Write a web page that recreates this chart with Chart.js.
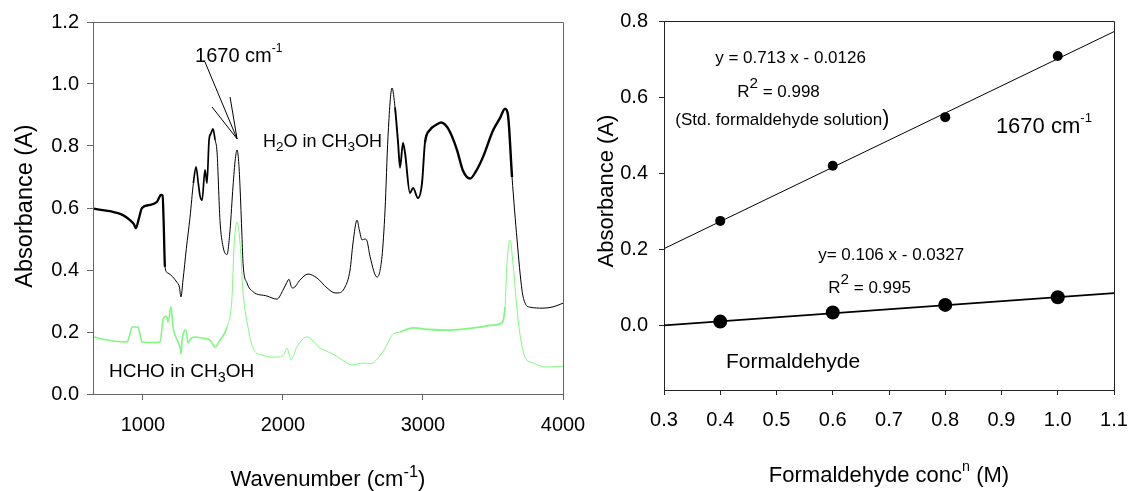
<!DOCTYPE html>
<html>
<head>
<meta charset="utf-8">
<script src="https://cdn.jsdelivr.net/npm/chart.js"></script>
<style>
  body { margin: 0; background: #fff; width: 1130px; height: 491px; overflow: hidden; position: relative; }
  .box { position: absolute; top: 0; height: 491px; }
</style>
</head>
<body>
<div class="box" style="left:0;width:585px"><canvas id="irChart" width="585" height="491"></canvas></div>
<div class="box" style="left:585px;width:545px"><canvas id="calChart" width="545" height="491"></canvas></div>
<script>
// ---- IR spectra (left panel) ----
var ir_h2o_wn  = [650, 700, 764, 857, 907, 935, 950, 970, 993, 1050, 1100, 1129, 1140, 1148, 1157, 1179, 1243, 1260, 1271, 1286, 1310, 1336, 1360, 1379, 1395, 1407, 1422, 1443, 1457, 1472, 1485, 1500, 1515, 1529, 1550, 1572, 1600, 1622, 1643, 1660, 1672, 1685, 1693, 1707, 1715, 1743, 1786, 1886, 1957, 2000, 2022, 2043, 2060, 2072, 2122, 2179, 2243, 2315, 2372, 2393, 2443, 2479, 2500, 2529, 2545, 2565, 2585, 2600, 2622, 2672, 2707, 2729, 2750, 2779, 2800, 2822, 2836, 2857, 2872, 2907, 2929, 2964, 2993, 3014, 3050, 3100, 3130, 3160, 3193, 3243, 3286, 3336, 3380, 3429, 3500, 3550, 3586, 3607, 3636, 3672, 3707, 3729, 3765, 3857, 3929, 4000];
var ir_h2o_abs = [0.598, 0.594, 0.590, 0.577, 0.561, 0.548, 0.535, 0.565, 0.600, 0.610, 0.620, 0.642, 0.640, 0.550, 0.410, 0.390, 0.360, 0.345, 0.313, 0.368, 0.470, 0.570, 0.680, 0.733, 0.680, 0.640, 0.625, 0.723, 0.680, 0.820, 0.840, 0.855, 0.820, 0.780, 0.560, 0.475, 0.450, 0.530, 0.670, 0.760, 0.787, 0.740, 0.670, 0.510, 0.420, 0.358, 0.330, 0.316, 0.306, 0.335, 0.355, 0.370, 0.345, 0.342, 0.368, 0.387, 0.374, 0.342, 0.326, 0.326, 0.345, 0.400, 0.487, 0.561, 0.530, 0.497, 0.500, 0.494, 0.443, 0.377, 0.443, 0.594, 0.830, 0.987, 0.925, 0.810, 0.730, 0.810, 0.777, 0.648, 0.665, 0.632, 0.680, 0.810, 0.852, 0.870, 0.876, 0.868, 0.845, 0.787, 0.720, 0.695, 0.720, 0.765, 0.850, 0.890, 0.920, 0.900, 0.700, 0.497, 0.335, 0.293, 0.280, 0.277, 0.281, 0.293];

var ir_hcho_wn  = [650, 700, 786, 886, 905, 922, 964, 980, 993, 1060, 1122, 1143, 1160, 1172, 1179, 1200, 1215, 1250, 1265, 1272, 1279, 1307, 1322, 1340, 1372, 1430, 1479, 1515, 1550, 1600, 1636, 1650, 1672, 1693, 1715, 1750, 1786, 1850, 1929, 2000, 2029, 2043, 2057, 2100, 2172, 2264, 2357, 2457, 2500, 2572, 2622, 2707, 2750, 2779, 2836, 2929, 3050, 3171, 3300, 3407, 3500, 3564, 3586, 3600, 3622, 3643, 3679, 3705, 3729, 3786, 3886, 4000];
var ir_hcho_abs = [0.184, 0.178, 0.171, 0.168, 0.190, 0.216, 0.216, 0.190, 0.168, 0.166, 0.168, 0.239, 0.250, 0.248, 0.232, 0.281, 0.216, 0.168, 0.150, 0.129, 0.174, 0.206, 0.165, 0.178, 0.184, 0.180, 0.174, 0.152, 0.174, 0.216, 0.313, 0.474, 0.555, 0.487, 0.326, 0.216, 0.148, 0.126, 0.119, 0.123, 0.148, 0.130, 0.110, 0.152, 0.184, 0.148, 0.129, 0.100, 0.094, 0.100, 0.097, 0.132, 0.165, 0.190, 0.200, 0.213, 0.208, 0.206, 0.210, 0.216, 0.222, 0.229, 0.281, 0.420, 0.497, 0.420, 0.239, 0.160, 0.119, 0.100, 0.087, 0.090];

var ir_ticks_x = [1000, 2000, 3000, 4000];
var ir_ticks_y = [0, 0.2, 0.4, 0.6, 0.8, 1.0, 1.2];

// ---- calibration (right panel) ----
var cal_conc       = [0.4, 0.6, 0.8, 1.0];
var cal_std_abs    = [0.274, 0.419, 0.547, 0.708];
var cal_hcho_abs   = [0.009, 0.033, 0.053, 0.073];
var cal_fit_conc   = [0.3, 1.1];
var cal_fit_std    = [0.201, 0.772];
var cal_fit_hcho   = [-0.001, 0.084];
var cal_ticks_x    = [0.3, 0.4, 0.5, 0.6, 0.7, 0.8, 0.9, 1.0, 1.1];
var cal_ticks_y    = [0, 0.2, 0.4, 0.6, 0.8];

var FONT = '"Liberation Sans", Arial, sans-serif';

// noisy parts of the recorded spectra are drawn with a heavier pen
var noise_h2o  = [[650, 1150, 2.3], [1350, 1510, 1.7], [2780, 2995, 1.9], [3000, 3620, 2.4]];
var noise_hcho = [[650, 1560, 1.6], [2780, 3565, 1.8]];

function penWidth(x, ranges) {
    for (var i = 0; i < ranges.length; i++) {
        if (x >= ranges[i][0] && x < ranges[i][1]) { return ranges[i][2]; }
    }
    return 1;
}

function toPoints(xs, ys) {
    return xs.map(function(x, i) { return {x: x, y: ys[i]}; });
}

/*
* draw text made of parts: [text, mode, scale, raise] with mode "", "sup" or "sub"
*/
function partFont(size, p) {
    var s = size;
    if (p[1] == "sup" || p[1] == "sub") { s = size * (p[2] || 0.65); }
    else if (p[2]) { s = size * p[2]; }
    return s.toFixed(1) + "px " + FONT;
}
function richWidth(ctx, parts, size) {
    var w = 0;
    parts.forEach(function(p) { ctx.font = partFont(size, p); w += ctx.measureText(p[0]).width; });
    return w;
}
function drawRich(ctx, parts, x, y, size, align) {
    if (align == "center") { x -= richWidth(ctx, parts, size) / 2; }
    ctx.fillStyle = "#000";
    ctx.textBaseline = "alphabetic";
    ctx.textAlign = "left";
    parts.forEach(function(p) {
        var dy = 0;
        if (p[1] == "sup") { dy = -size * (p[3] || 0.45); }
        if (p[1] == "sub") { dy = size * 0.25; }
        ctx.font = partFont(size, p);
        ctx.fillText(p[0], x, y + dy);
        x += ctx.measureText(p[0]).width;
    });
}

// fixed axis size, and no extra room for labels hanging over the ends
function axisFit(prop, value) {
    return function(scale) {
        scale[prop] = value;
        scale.paddingLeft = 0; scale.paddingRight = 0;
        scale.paddingTop = 0;  scale.paddingBottom = 0;
    };
}
function fixedTicks(list) {
    return function(scale) { scale.ticks = list.map(function(v) { return {value: v}; }); };
}

// frame, notes, arrows and axis titles
function decorPlugin(cfg) {
    return {
        id: "decor",
        afterDraw: function(chart) {
            var ctx = chart.ctx, a = chart.chartArea;
            var sx = chart.scales.x, sy = chart.scales.y;
            ctx.save();
            ctx.strokeStyle = cfg.frame;
            ctx.lineWidth = 1;
            ctx.beginPath();
            ctx.moveTo(Math.round(a.left) + 0.5, Math.round(a.top) + 0.5);
            ctx.lineTo(Math.round(a.right) + 0.5, Math.round(a.top) + 0.5);
            ctx.lineTo(Math.round(a.right) + 0.5, Math.round(a.bottom) + 0.5);
            ctx.stroke();

            (cfg.arrows || []).forEach(function(l) {
                ctx.strokeStyle = "#000";
                ctx.beginPath();
                ctx.moveTo(sx.getPixelForValue(l[0]), sy.getPixelForValue(l[1]));
                ctx.lineTo(sx.getPixelForValue(l[2]), sy.getPixelForValue(l[3]));
                ctx.stroke();
            });

            cfg.notes.forEach(function(n) {
                drawRich(ctx, n.parts, sx.getPixelForValue(n.x), sy.getPixelForValue(n.y), n.size, "left");
            });

            drawRich(ctx, cfg.xTitle, (a.left + a.right) / 2, cfg.xTitleY, cfg.xTitleSize, "center");

            ctx.translate(cfg.yTitleX, cfg.yTitleMid);
            ctx.rotate(-Math.PI / 2);
            drawRich(ctx, cfg.yTitle, 0, 0, cfg.yTitleSize, "center");
            ctx.restore();
        }
    };
}

function axisStyle(color, tickLen) {
    return {
        grid: { display: true, drawOnChartArea: false, drawTicks: true, tickLength: tickLen, color: color, lineWidth: 1 },
        border: { display: true, color: color, width: 1 }
    };
}

// ---- left chart ----
var irX = axisStyle("#666", 6);
var irY = axisStyle("#666", 6);
new Chart(document.getElementById("irChart"), {
    type: "line",
    data: {
        datasets: [
            {
                data: toPoints(ir_h2o_wn, ir_h2o_abs),
                borderColor: "#000",
                borderWidth: 1,
                pointRadius: 0,
                cubicInterpolationMode: "monotone",
                segment: { borderWidth: function(c) { return penWidth(c.p0.parsed.x, noise_h2o); } }
            },
            {
                data: toPoints(ir_hcho_wn, ir_hcho_abs),
                borderColor: "rgb(128,248,128)",
                borderWidth: 1,
                pointRadius: 0,
                cubicInterpolationMode: "monotone",
                segment: { borderWidth: function(c) { return penWidth(c.p0.parsed.x, noise_hcho); } }
            }
        ]
    },
    options: {
        responsive: false,
        animation: false,
        devicePixelRatio: 1,
        layout: { padding: { left: 0, top: 22, right: 22, bottom: 0 } },
        plugins: { legend: { display: false }, tooltip: { enabled: false } },
        scales: {
            x: {
                type: "linear", min: 643, max: 4000,
                grid: irX.grid, border: irX.border,
                afterBuildTicks: fixedTicks(ir_ticks_x),
                afterFit: axisFit("height", 97),
                ticks: { color: "#000", padding: 13, maxRotation: 0, font: { family: FONT, size: 20 },
                         callback: function(v) { return String(v); } }
            },
            y: {
                min: 0, max: 1.2,
                grid: irY.grid, border: irY.border,
                afterBuildTicks: fixedTicks(ir_ticks_y),
                afterFit: axisFit("width", 93),
                ticks: { color: "#000", padding: 8, font: { family: FONT, size: 20 },
                         callback: function(v) { return v.toFixed(1); } }
            }
        }
    },
    plugins: [decorPlugin({
        frame: "#666",
        arrows: [[1443, 1.071, 1672, 0.823], [1493, 0.926, 1672, 0.823], [1622, 0.958, 1672, 0.823]],
        notes: [
            { parts: [["1670 cm"], ["-1", "sup", 0.6, 0.5]], x: 1372, y: 1.07, size: 20 },
            { parts: [["H"], ["2", "sub", 0.75], ["O in CH"], ["3", "sub", 0.75], ["OH"]], x: 1857, y: 0.797, size: 18 },
            { parts: [["HCHO in CH"], ["3", "sub", 0.75], ["OH"]], x: 757, y: 0.055, size: 19 }
        ],
        xTitle: [["Wavenumber (cm"], ["-1", "sup", 0.75, 0.42], [")"]],
        xTitleY: 486, xTitleSize: 22,
        yTitle: [["Absorbance (A)"]],
        yTitleX: 32, yTitleMid: 206, yTitleSize: 23.5
    })]
});

// ---- right chart ----
var calX = axisStyle("#222", 5);
var calY = axisStyle("#222", 5);
new Chart(document.getElementById("calChart"), {
    type: "scatter",
    data: {
        datasets: [
            { type: "line", data: toPoints(cal_fit_conc, cal_fit_std), borderColor: "#000", borderWidth: 1, pointRadius: 0 },
            { type: "line", data: toPoints(cal_fit_conc, cal_fit_hcho), borderColor: "#000", borderWidth: 1.6, pointRadius: 0 },
            { data: toPoints(cal_conc, cal_std_abs), backgroundColor: "#000", borderColor: "#000", pointRadius: 5, borderWidth: 0 },
            { data: toPoints(cal_conc, cal_hcho_abs), backgroundColor: "#000", borderColor: "#000", pointRadius: 7, borderWidth: 0 }
        ]
    },
    options: {
        responsive: false,
        animation: false,
        devicePixelRatio: 1,
        layout: { padding: { left: 0, top: 21, right: 16, bottom: 0 } },
        plugins: { legend: { display: false }, tooltip: { enabled: false } },
        scales: {
            x: {
                type: "linear", min: 0.3, max: 1.1,
                grid: calX.grid, border: calX.border,
                afterBuildTicks: fixedTicks(cal_ticks_x),
                afterFit: axisFit("height", 101),
                ticks: { color: "#000", padding: 13, maxRotation: 0, font: { family: FONT, size: 20 },
                         callback: function(v) { return v.toFixed(1); } }
            },
            y: {
                min: -0.171, max: 0.8,
                grid: calY.grid, border: calY.border,
                afterBuildTicks: fixedTicks(cal_ticks_y),
                afterFit: axisFit("width", 79),
                ticks: { color: "#000", padding: 11, font: { family: FONT, size: 20 },
                         callback: function(v) { return v.toFixed(1); } }
            }
        }
    },
    plugins: [decorPlugin({
        frame: "#222",
        notes: [
            { parts: [["y = 0.713 x - 0.0126"]], x: 0.391, y: 0.689, size: 17 },
            { parts: [["R"], ["2", "sup", 0.9, 0.55], [" = 0.998"]], x: 0.430, y: 0.600, size: 17 },
            { parts: [["(Std. formaldehyde solution"], [")", "", 1.25]], x: 0.320, y: 0.526, size: 17 },
            { parts: [["1670 cm"], ["-1", "sup", 0.6, 0.5]], x: 0.890, y: 0.505, size: 22 },
            { parts: [["y= 0.106 x - 0.0327"]], x: 0.574, y: 0.171, size: 17 },
            { parts: [["R"], ["2", "sup", 0.9, 0.55], [" = 0.995"]], x: 0.592, y: 0.084, size: 17 },
            { parts: [["Formaldehyde"]], x: 0.410, y: -0.113, size: 21 }
        ],
        xTitle: [["Formaldehyde conc"], ["n", "sup", 0.65, 0.5], [" (M)"]],
        xTitleY: 482, xTitleSize: 22,
        yTitle: [["Absorbance (A)"]],
        yTitleX: 28, yTitleMid: 191, yTitleSize: 22
    })]
});
</script>
</body>
</html>
